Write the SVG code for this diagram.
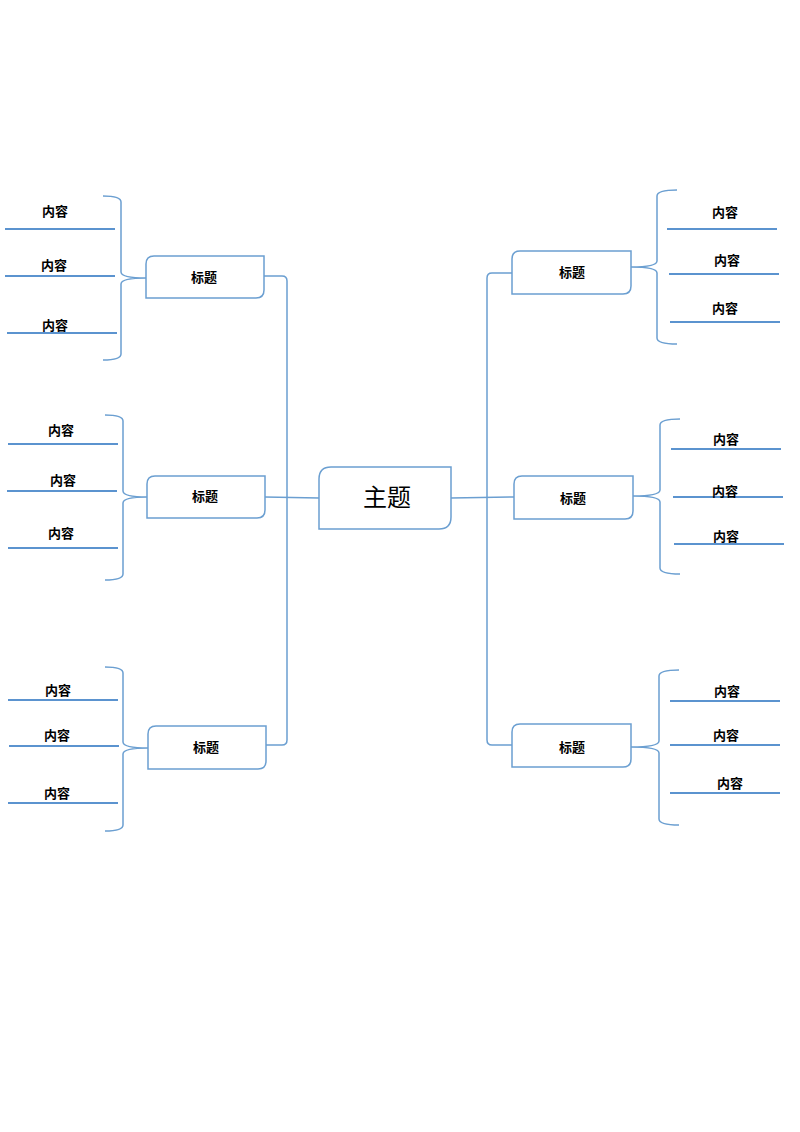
<svg xmlns="http://www.w3.org/2000/svg" width="800" height="1132" viewBox="0 0 800 1132">
<style>
.s{fill:none;stroke:#6b9fd1;stroke-width:1.5}
.u{stroke:#5b93cf;stroke-width:2}
.b{fill:#fff;stroke:#6b9fd1;stroke-width:1.5}
text{font-family:"Liberation Sans","Noto Sans CJK SC",sans-serif;font-weight:bold;fill:#000;text-anchor:middle}
.c{font-size:13px}
.t{font-size:13px}
.m{font-size:24px;font-weight:normal}
</style>
<rect width="800" height="1132" fill="#fff"/>
<g id="connectors" class="s">
<path d="M264 276 H282 Q287 276 287 281 V740 Q287 745 282 745 H266"/>
<path d="M265 497 L319 498"/>
<path d="M512 273 H492 Q487 273 487 278 V740 Q487 745 492 745 H512"/>
<path d="M451 498 L514 497"/>
<path d="M103 196 Q121 196 121 202 V272 Q121 278 146 278 Q121 278 121 284 V354 Q121 360 103 360"/>
<path d="M105 415 Q123 415 123 421 V491 Q123 497 147 497 Q123 497 123 503 V574 Q123 580 105 580"/>
<path d="M105 667 Q123 667 123 673 V742 Q123 748 148 748 Q123 748 123 754 V825 Q123 831 105 831"/>
<path d="M677 190 Q657 190 657 196 V261 Q657 267 631 267 Q657 267 657 273 V338 Q657 344 677 344"/>
<path d="M680 419 Q660 419 660 425 V490 Q660 496 633 496 Q660 496 660 502 V568 Q660 574 680 574"/>
<path d="M679 670 Q659 670 659 676 V741 Q659 747 631 747 Q659 747 659 753 V819 Q659 825 679 825"/>
</g>
<g id="underlines" class="u">
<line x1="5" y1="229" x2="115" y2="229"/><line x1="5" y1="276" x2="115" y2="276"/><line x1="7" y1="333" x2="117" y2="333"/>
<line x1="8" y1="444" x2="118" y2="444"/><line x1="7" y1="491" x2="117" y2="491"/><line x1="8" y1="548" x2="118" y2="548"/>
<line x1="8" y1="700" x2="118" y2="700"/><line x1="9" y1="746" x2="119" y2="746"/><line x1="8" y1="803" x2="118" y2="803"/>
<line x1="667" y1="229" x2="777" y2="229"/><line x1="669" y1="274" x2="779" y2="274"/><line x1="670" y1="322" x2="780" y2="322"/>
<line x1="671" y1="449" x2="781" y2="449"/><line x1="673" y1="497" x2="783" y2="497"/><line x1="674" y1="544" x2="784" y2="544"/>
<line x1="670" y1="701" x2="780" y2="701"/><line x1="670" y1="745" x2="780" y2="745"/><line x1="670" y1="793" x2="780" y2="793"/>
</g>
<g id="center"><path class="b" d="M331 467 H451 V517 Q451 529 439 529 H319 V479 Q319 467 331 467Z"/><text class="m" x="387" y="506">主题</text></g>
<g id="L1"><path class="b" d="M154 256 H264 V290 Q264 298 256 298 H146 V264 Q146 256 154 256Z"/><text class="t" x="204" y="282">标题</text></g>
<g id="L2"><path class="b" d="M155 476 H265 V510 Q265 518 257 518 H147 V484 Q147 476 155 476Z"/><text class="t" x="205" y="501">标题</text></g>
<g id="L3"><path class="b" d="M156 726 H266 V761 Q266 769 258 769 H148 V734 Q148 726 156 726Z"/><text class="t" x="206" y="752">标题</text></g>
<g id="R1"><path class="b" d="M520 251 H631 V286 Q631 294 623 294 H512 V259 Q512 251 520 251Z"/><text class="t" x="572" y="277">标题</text></g>
<g id="R2"><path class="b" d="M522 476 H633 V511 Q633 519 625 519 H514 V484 Q514 476 522 476Z"/><text class="t" x="573" y="503">标题</text></g>
<g id="R3"><path class="b" d="M520 724 H631 V759 Q631 767 623 767 H512 V732 Q512 724 520 724Z"/><text class="t" x="572" y="752">标题</text></g>
<g id="labels" class="c">
<text x="55" y="216">内容</text><text x="54" y="270">内容</text><text x="55" y="330">内容</text>
<text x="61" y="435">内容</text><text x="63" y="485">内容</text><text x="61" y="538">内容</text>
<text x="58" y="695">内容</text><text x="57" y="740">内容</text><text x="57" y="798">内容</text>
<text x="725" y="217">内容</text><text x="727" y="265">内容</text><text x="725" y="313">内容</text>
<text x="726" y="444">内容</text><text x="725" y="496">内容</text><text x="726" y="541">内容</text>
<text x="727" y="696">内容</text><text x="726" y="740">内容</text><text x="730" y="788">内容</text>
</g>
</svg>
